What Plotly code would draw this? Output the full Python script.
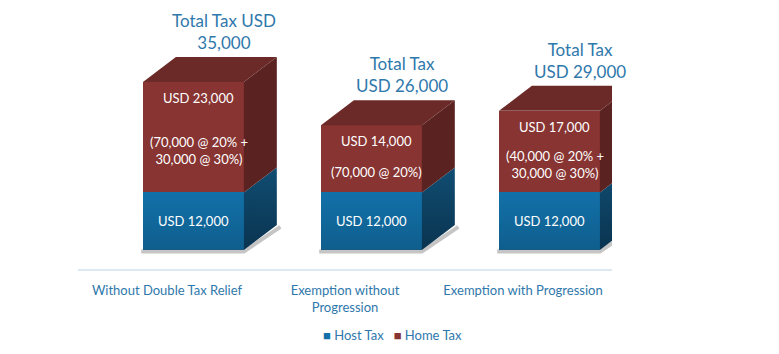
import plotly.graph_objects as go

categories = ["Without Double Tax Relief", "Exemption without<br>Progression", "Exemption with Progression"]
series_names = ["Host Tax", "Home Tax"]
host_tax = [12000, 12000, 12000]
home_tax = [23000, 14000, 17000]
host_labels = ["USD 12,000", "USD 12,000", "USD 12,000"]
home_labels = ["USD 23,000", "USD 14,000", "USD 17,000"]
home_notes = ["(70,000 @ 20% +<br>30,000 @ 30%)", "(70,000 @ 20%)", "(40,000 @ 20% +<br>30,000 @ 30%)"]
total_labels = ["Total Tax USD<br>35,000", "Total Tax<br>USD 26,000", "Total Tax<br>USD 29,000"]

# geometry / style
W, H = 779, 354
ML, MR, MT, MB = 78, 167, 0, 84
OFF, BW = -0.135, 0.567      # front face offset and width (category units)
DX = 0.185                   # depth in x (category units)
PX_PER_UNIT_Y = 4.8 / 1000   # px per USD
DY = 25 / PX_PER_UNIT_Y      # depth in y (data units)
YMIN = -20 / PX_PER_UNIT_Y
YMAX = 250 / PX_PER_UNIT_Y

HOST_FRONT = "#1270a8"
HOST_SIDE = "#0e4a6d"
HOME_FRONT = "#873432"
HOME_SIDE = "#5a2220"
HOME_TOP = "#6b2a28"
TXT_BLUE = "#2f78ab"
FONT = "Lato"

fig = go.Figure()

xs = list(range(len(categories)))

# soft shadows along the bottom edges
for i in xs:
    x0 = i + OFF
    x1 = x0 + BW
    s = 1.5 / PX_PER_UNIT_Y
    fig.add_trace(go.Scatter(
        x=[x0 - 0.01, x1, x1 + DX + 0.02],
        y=[-s, -s, DY - s * 1.2],
        mode="lines", line=dict(color="rgba(90,90,90,0.35)", width=4),
        showlegend=False, hoverinfo="skip"))

fig.add_trace(go.Bar(x=xs, y=host_tax, base=[0] * 3, offset=OFF, width=BW,
                     marker=dict(color=HOST_FRONT, line=dict(width=0)), name=series_names[0],
                     hoverinfo="skip", showlegend=False))
fig.add_trace(go.Bar(x=xs, y=home_tax, base=host_tax, offset=OFF, width=BW,
                     marker=dict(color=HOME_FRONT, line=dict(width=0)), name=series_names[1],
                     hoverinfo="skip", showlegend=False))

def poly(px, py, color, grad=None):
    kw = {}
    if grad:
        kw["fillgradient"] = dict(type="vertical", colorscale=grad)
    else:
        kw["fillcolor"] = color
    fig.add_trace(go.Scatter(x=px + [px[0]], y=py + [py[0]], fill="toself",
                             line=dict(width=0), mode="lines", showlegend=False,
                             hoverinfo="skip", **kw))

for i in xs:
    x0 = i + OFF
    x1 = x0 + BW
    h = host_tax[i]
    t = host_tax[i] + home_tax[i]
    # subtle shading on host front
    poly([x0, x1, x1, x0], [0, 0, h, h], None,
         grad=[[0, "rgba(0,0,0,0.16)"], [1, "rgba(0,0,0,0)"]])
    # host side
    poly([x1, x1 + DX, x1 + DX, x1], [0, DY, h + DY, h], HOST_SIDE,
         grad=[[0, "#0a3450"], [1, "#104d72"]])
    # home side
    poly([x1, x1 + DX, x1 + DX, x1], [h, h + DY, t + DY, t], HOME_SIDE)
    # home top
    poly([x0, x1, x1 + DX, x0 + DX], [t, t, t + DY, t + DY], HOME_TOP)

annotations = []
for i in xs:
    cx = i + OFF + BW / 2
    h = host_tax[i]
    t = host_tax[i] + home_tax[i]
    annotations.append(dict(x=cx, y=h / 2, text=host_labels[i], showarrow=False,
                            font=dict(color="white", size=13, family=FONT)))
    ylab = t - 16 / PX_PER_UNIT_Y
    annotations.append(dict(x=cx + 0.03, y=ylab, text=home_labels[i], showarrow=False,
                            font=dict(color="white", size=13, family=FONT)))
    annotations.append(dict(x=cx + 0.03, y=(ylab + h) / 2, yshift=-5, text=home_notes[i],
                            showarrow=False,
                            font=dict(color="white", size=13, family=FONT)))
    annotations.append(dict(x=i + 0.32, y=t + DY, yanchor="bottom", yshift=2,
                            text=total_labels[i], showarrow=False,
                            font=dict(color=TXT_BLUE, size=17, family=FONT)))

# legend as text
legend_text = (f"<span style='color:{HOST_FRONT}'>■</span> {series_names[0]}"
               f"&nbsp;&nbsp;&nbsp;<span style='color:{HOME_FRONT}'>■</span> {series_names[1]}")
annotations.append(dict(xref="paper", yref="paper", x=(392 - ML) / (W - ML - MR),
                        y=-(335 - (H - MB)) / (H - MB - MT), xanchor="center", yanchor="middle",
                        text=legend_text, showarrow=False,
                        font=dict(color=TXT_BLUE, size=13, family=FONT)))

fig.update_layout(
    width=W, height=H,
    margin=dict(l=ML, r=MR, t=MT, b=MB),
    paper_bgcolor="white", plot_bgcolor="white",
    barmode="overlay", bargap=0,
    annotations=annotations,
    font=dict(family=FONT, color=TXT_BLUE, size=13),
    showlegend=False,
    xaxis=dict(range=[-0.5, 2.5], tickvals=xs, ticktext=categories, showgrid=False,
               zeroline=False, showline=False, ticks="", ticklabelstandoff=11,
               tickfont=dict(size=13, color=TXT_BLUE)),
    yaxis=dict(range=[YMIN, YMAX], visible=False, showgrid=False, zeroline=False),
    shapes=[dict(type="line", xref="paper", yref="paper", x0=0, x1=1, y0=0, y1=0,
                 line=dict(color="#dde9f2", width=2))],
)

fig.write_html("out.html")
